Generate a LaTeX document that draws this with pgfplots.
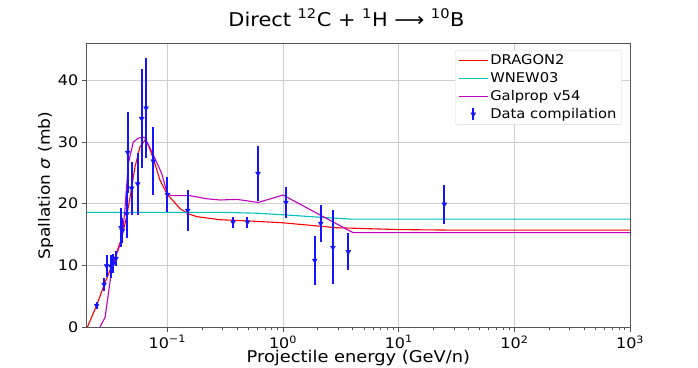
\documentclass[border=0pt]{standalone}
\usepackage{fontspec}
\setmainfont[FakeStretch=1.1]{DejaVu Sans}
\usepackage{pgfplots}
\pgfplotsset{compat=1.18}
\definecolor{dragon}{RGB}{255,0,0}
\definecolor{wnew}{RGB}{0,191,191}
\definecolor{galprop}{RGB}{191,0,191}
\definecolor{gridc}{RGB}{205,205,205}
\definecolor{spine}{RGB}{85,85,85}
\definecolor{datab}{RGB}{20,20,255}

\pgfplotstableread{
x y
0.0204 0
0.0245 3.5
0.0284 6.8
0.0341 10.5
0.0404 14.5
0.0446 18
0.0477 21.1
0.0526 26.0
0.058 29.2
0.0647 30.4
0.0686 29.5
0.0757 27.3
0.0865 23.8
0.100 21.5
0.129 19.2
0.150 18.4
0.180 17.9
0.285 17.4
0.5 17.2
1.0 16.9
2.9 16.1
10 15.8
34 15.7
1000 15.7
}\dragon

\pgfplotstableread{
x y
0.0201 18.6
0.3 18.6
0.6 18.45
1.0 18.2
2.1 17.8
3.8 17.5
1000 17.5
}\wnew

\pgfplotstableread{
x y
0.0262 0
0.0290 1.6
0.0310 5.5
0.033 9.2
0.0367 12
0.0404 14.1
0.043 19
0.046 26.5
0.0508 30.0
0.056 30.6
0.061 30.8
0.064 30.7
0.0757 27.9
0.0895 24.9
0.1 21.6
0.108 21.3
0.157 21.3
0.219 20.8
0.285 20.6
0.40 20.7
0.61 20.2
1.0 21.4
4.03 15.3
1000 15.3
}\galprop

\pgfplotstableread{
x y e
0.0245 3.5 0.5
0.0284 6.9 1.0
0.0299 9.9 1.8
0.0326 9.8 1.8
0.0341 10.3 1.5
0.0360 11.1 1.2
0.0398 16.1 3.2
0.0408 15.6 2.0
0.0446 18.3 3.8
0.0455 28.3 6.6
0.0492 22.5 4.3
0.0555 23.2 5.1
0.0601 33.8 8.0
0.0655 35.5 8.1
0.0757 26.9 5.5
0.100 21.5 2.8
0.150 18.9 3.4
0.370 17.0 0.9
0.492 17.0 0.9
0.608 24.9 4.5
1.06 20.2 2.5
1.88 10.8 4.0
2.12 16.8 3.0
2.70 12.9 6.0
3.67 12.2 3.0
24.8 19.9 3.2
}\datac

\begin{document}
\begin{tikzpicture}
\useasboundingbox (-86.7bp,-41bp) rectangle (611.3bp,327bp);
\begin{axis}[
  scale only axis,
  width=543.4bp, height=283bp,
  xmode=log,
  xmin=0.0201, xmax=1000,
  ymin=0, ymax=45.9,
  xtick={0.1,1,10,100,1000},
  xticklabels={10\textsuperscript{−1},10\textsuperscript{0},10\textsuperscript{1},10\textsuperscript{2},10\textsuperscript{3}},
  ytick={0,10,20,30,40},
  /pgf/number format/assume math mode=true,
  tick label style={font=\fontsize{14.5bp}{17bp}\selectfont},
  xtick pos=bottom, ytick pos=left,
  tick align=outside,
  major tick length=5bp,
  minor tick length=3bp,
  tick style={spine, line width=0.7bp},
  axis line style={spine, line width=1bp},
  grid=major,
  major grid style={gridc, line width=1bp},
  title={Direct \textsuperscript{12}C + \textsuperscript{1}H ⟶ \textsuperscript{10}B},
  title style={font=\fontsize{19bp}{23bp}\selectfont, at={(axis description cs:0.478,1.0413)}, anchor=base},
  xlabel={Projectile energy (GeV/n)},
  xlabel style={font=\fontsize{16.2bp}{19bp}\selectfont, at={(axis description cs:0.5,-0.1261)}, anchor=base},
  ylabel={Spallation \textit{σ} (mb)},
  ylabel style={font=\fontsize{15.5bp}{18bp}\selectfont, at={(axis description cs:-0.0755,0.5)}, anchor=center},
  legend cell align=left,
  legend style={at={(axis description cs:0.9845,0.9788)}, anchor=north east,
    draw=gray!30, rounded corners=2bp, fill=white,
    font=\fontsize{13.4bp}{16bp}\selectfont, row sep=2.4bp, inner xsep=3bp, inner ysep=2.5bp},
]
\addplot[dragon, line width=1.1bp,
  legend image code/.code={\draw[dragon, line width=1.1bp] (0bp,0bp) -- (29bp,0bp);}] table[x=x,y=y] {\dragon};
\addlegendentry{DRAGON2}
\addplot[wnew, line width=1.1bp,
  legend image code/.code={\draw[wnew, line width=1.1bp] (0bp,0bp) -- (29bp,0bp);}] table[x=x,y=y] {\wnew};
\addlegendentry{WNEW03}
\addplot[galprop, line width=1.1bp,
  legend image code/.code={\draw[galprop, line width=1.1bp] (0bp,0bp) -- (29bp,0bp);}] table[x=x,y=y] {\galprop};
\addlegendentry{Galprop v54}
\addplot[datab, only marks, mark=triangle*, mark size=2.8bp,
  mark options={rotate=180, datab, fill=datab},
  legend image code/.code={\draw[datab, line width=2bp] (14.5bp,-6bp) -- (14.5bp,6bp);
     \draw plot[mark=triangle*, mark size=2.8bp, mark options={rotate=180, datab, fill=datab}] coordinates {(14.5bp,0bp)};},
  error bars/.cd, y dir=both, y explicit, error mark=none,
  error bar style={line width=2bp, datab}]
  table[x=x,y=y,y error=e] {\datac};
\addlegendentry{Data compilation}
\end{axis}
\end{tikzpicture}
\end{document}
